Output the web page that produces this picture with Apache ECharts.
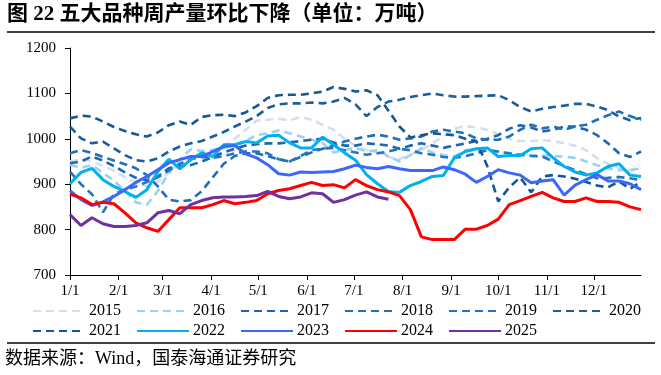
<!DOCTYPE html>
<html>
<head>
<meta charset="utf-8">
<script src="https://cdn.jsdelivr.net/npm/echarts@6/dist/echarts.min.js"></script>
<style>
  html, body { margin: 0; padding: 0; background: #fff; }
  #chart { width: 661px; height: 375px; }
</style>
</head>
<body>
<div id="chart"></div>
<script>
// weekly points, x = day of year
const weekStep = 7;
const monthDays = [0, 31, 59, 90, 120, 151, 181, 212, 243, 273, 304, 334];
const monthLabels = ['1/1', '2/1', '3/1', '4/1', '5/1', '6/1', '7/1', '8/1', '9/1', '10/1', '11/1', '12/1'];
const yTicks = [700, 800, 900, 1000, 1100, 1200];

const y2015 = [950, 955, 950, 940, 930, 915, 905, 895, 905, 925, 945, 955, 965, 975,
  985, 1000, 1020, 1040, 1042, 1044, 1041, 1048, 1042, 1031, 1020, 1000, 985,
  975, 970, 960, 955, 965, 975, 990, 1005, 1022, 1028, 1025, 1020, 1010,
  1000, 995, 995, 997, 995, 990, 985, 975, 957, 945, 935, 931, 935];
const y2016 = [943, 936, 942, 925, 908, 885, 860, 855, 885, 925, 955, 977, 973, 975,
  980, 985, 995, 1008, 1012, 1018, 1012, 1005, 998, 990, 970, 975, 980,
  972, 975, 962, 950, 964, 979, 970, 964, 961, 975, 975, 975, 972,
  968, 965, 964, 963, 962, 961, 958, 950, 942, 935, 931, 931, 935];
const y2017 = [946, 950, 961, 952, 940, 926, 914, 909, 917, 935, 940, 942, 950, 960,
  970, 978, 985, 988, 990, 990, 992, 995, 998, 1000, 992, 985, 985,
  990, 988, 985, 978, 985, 990, 985, 980, 985, 990, 995,
  1000, 1008, 1022, 1030, 1025, 1016, 1020, 1027, 1027, 1020, 1008, 990, 968, 960, 972];
const y2018 = [968, 975, 969, 960, 952, 944, 935, 920, 895, 866, 862, 865, 885, 915,
  945, 962, 968, 968, 962, 955, 950, 960, 970, 978, 985, 994, 1000,
  1005, 1009, 1005, 998, 1001, 1005, 1016, 1020, 1016, 1012, 1001, 998, 998,
  1005, 1020, 1031, 1023, 1027, 1020, 1027, 1031, 1042, 1052, 1060, 1050, 1042];
const y2019 = [928, 900, 878, 838, 878, 888, 895, 905, 915, 930, 945, 955, 960, 958,
  962, 968, 972, 972, 968, 955, 950, 962, 975, 978, 980, 975, 970,
  965, 968, 972, 978, 975, 968, 965, 960, 958, 962, 968,
  975, 972, 968, 965, 962, 961, 950, 940, 931, 922, 913, 914, 916, 913, 909];
const y2020 = [1027, 1001, 990, 994, 979, 964, 953, 950, 957, 972, 983, 990, 995, 1005,
  1015, 1027, 1038, 1050, 1068, 1076, 1078, 1078, 1080, 1078, 1082, 1090, 1076,
  1050, 1070, 1082, 1086, 1092, 1096, 1100, 1096, 1093, 1093, 1094, 1095, 1096,
  1085, 1070, 1060, 1066, 1070, 1073, 1077, 1077, 1071, 1063, 1049, 1041, 1046];
const y2021 = [1045, 1051, 1049, 1038, 1026, 1017, 1010, 1005, 1014, 1030, 1038, 1031, 1048, 1052,
  1053, 1050, 1058, 1072, 1090, 1096, 1097, 1097, 1100, 1104, 1114, 1110, 1104,
  1107, 1096, 1062, 1027, 1003, 1008, 1012, 1010, 1008, 1000, 995, 940, 862,
  893, 915, 882, 917, 920, 917, 912, 905, 897, 893, 906, 890, 905];
const y2022 = [901, 926, 935, 910, 895, 884, 871, 888, 928, 955, 934, 954, 969, 961,
  987, 987, 994, 991, 1006, 1008, 991, 980, 980, 1004,
  987, 969, 953, 921, 901, 884, 882, 897, 906, 917, 919, 958, 972, 978, 980,
  961, 963, 963, 978, 980, 958, 939, 927, 920, 925, 939, 945, 920, 917];
const y2023 = [886, 866, 853, 861, 873, 888, 904, 917, 932, 947, 954, 961, 961, 972,
  983, 985, 967, 958, 943, 923, 920, 927, 926, 927,
  928, 934, 942, 937, 934, 939, 934, 930, 930, 930, 938, 932, 922, 904, 917,
  932, 925, 920, 903, 907, 910, 876, 898, 910, 921, 907, 907, 901, 888];
const y2024 = [878, 870, 855, 860, 857, 837, 815, 804, 796, 822, 848, 848, 848, 855,
  864, 857, 860, 864, 879, 886, 890, 897, 904, 897,
  899, 892, 910, 897, 888, 883, 875, 844, 784, 778, 778, 778, 801, 801, 809,
  823, 855, 864, 873, 882, 870, 862, 862, 870, 862, 862, 860, 850, 844];
const y2025 = [833, 809, 826, 813, 807, 807, 809, 815, 837, 842, 835, 855, 864, 870,
  872, 872, 873, 875, 884, 873, 868, 872, 881, 879, 860, 866, 876, 883, 872, 867];

const years = ['2015', '2016', '2017', '2018', '2019', '2020', '2021', '2022', '2023', '2024', '2025'];
const values = [y2015, y2016, y2017, y2018, y2019, y2020, y2021, y2022, y2023, y2024, y2025];
const colors = ['#d5ddef', '#9dd0f6', '#1b66b0', '#1f6fba', '#2474bf', '#1a5e9f', '#155793',
  '#00b0f0', '#3b68fb', '#ff0000', '#7030a0'];
const dashedYears = ['2015', '2016', '2017', '2018', '2019', '2020', '2021'];

const serif = "'Liberation Serif', 'Noto Sans CJK SC', serif";

const chart = echarts.init(document.getElementById('chart'));

const series = years.map((name, k) => ({
  name: name,
  type: 'line',
  symbol: 'none',
  color: colors[k],
  lineStyle: {
    width: dashedYears.includes(name) ? 2.6 : 3,
    type: dashedYears.includes(name) ? [8, 5] : 'solid',
    color: colors[k]
  },
  data: values[k].map((v, i) => [i * weekStep, v])
}));

const legendBase = {
  left: 32,
  padding: 0,
  itemWidth: 52,
  itemHeight: 10,
  itemGap: 15,
  itemStyle: { opacity: 0 },
  textStyle: { color: '#000', fontFamily: serif, fontSize: 16, padding: [0, 0, 0, -1] }
};

chart.setOption({
  animation: false,
  grid: { left: 70, right: 20, top: 48, bottom: 100 },
  xAxis: {
    type: 'value',
    min: 0,
    max: 364,
    splitLine: { show: false },
    axisLine: { lineStyle: { color: '#000', width: 1 } },
    axisTick: { show: true, length: 5, customValues: monthDays, lineStyle: { color: '#000' } },
    axisLabel: {
      customValues: monthDays,
      margin: 9,
      color: '#000',
      fontFamily: serif,
      fontSize: 15,
      formatter: v => monthLabels[monthDays.indexOf(v)]
    }
  },
  yAxis: {
    type: 'value',
    min: yTicks[0],
    max: yTicks[yTicks.length - 1],
    interval: 100,
    splitLine: { show: false },
    axisLine: { show: true, lineStyle: { color: '#000', width: 1 } },
    axisTick: { show: true, length: 5, lineStyle: { color: '#000' } },
    axisLabel: { margin: 14, color: '#000', fontFamily: serif, fontSize: 15, formatter: v => String(v) }
  },
  legend: [
    Object.assign({ data: years.slice(0, 6), top: 303 }, legendBase),
    Object.assign({ data: years.slice(6), top: 323 }, legendBase)
  ],
  graphic: [
    {
      type: 'text', left: 7, top: 4,
      style: {
        text: '图 22 五大品种周产量环比下降（单位：万吨）',
        fill: '#000',
        font: "bold 21px 'Liberation Serif', 'Noto Sans CJK SC', serif"
      }
    },
    {
      type: 'line',
      shape: { x1: 7, y1: 32, x2: 655, y2: 32 },
      style: { stroke: '#000', lineWidth: 1.5 }
    },
    {
      type: 'line',
      shape: { x1: 7, y1: 343, x2: 655, y2: 343 },
      style: { stroke: '#000', lineWidth: 1.5 }
    },
    {
      type: 'text', left: 5, top: 350,
      style: {
        text: '数据来源：Wind，国泰海通证券研究',
        fill: '#000',
        font: "18px 'Liberation Serif', 'Noto Sans CJK SC', serif"
      }
    }
  ],
  series: series
});
</script>
</body>
</html>
